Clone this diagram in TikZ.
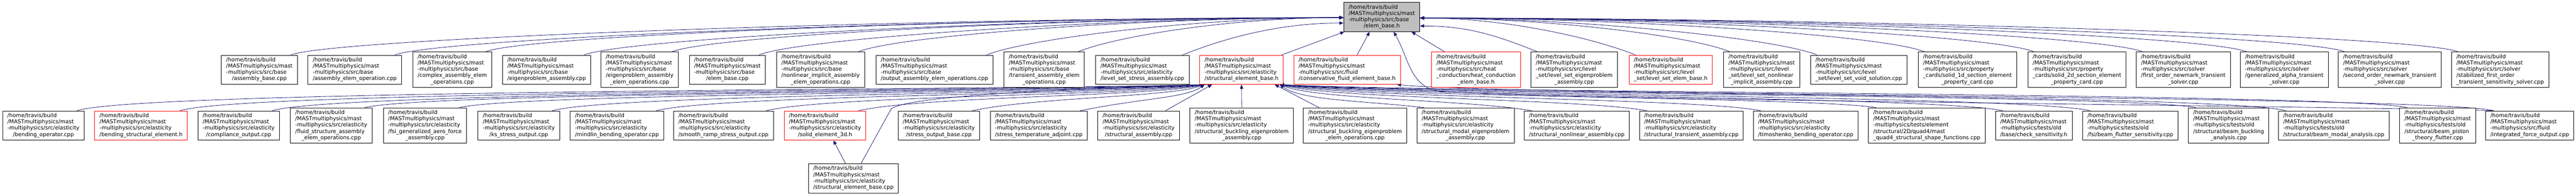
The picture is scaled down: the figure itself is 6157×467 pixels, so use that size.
\documentclass[tikz,border=0pt]{standalone}
\usepackage{fontspec}
\setmainfont{DejaVu Sans}
\usetikzlibrary{arrows.meta,calc,backgrounds}
\definecolor{edgeblue}{HTML}{191970}
\definecolor{grey75}{HTML}{BFBFBF}
\newcommand{\mastpath}{/home/travis/build\\/MASTmultiphysics/mast\\}
\newcommand{\flabel}[2]{\begin{tabular}{@{}l@{}}\mastpath #1\\\multicolumn{1}{@{}c@{}}{#2}\end{tabular}}
\tikzset{
  srcfile/.style={draw=black, line width=1pt, fill=white, inner xsep=11.5pt, inner ysep=4.85pt, font=\fontsize{12.95}{15}\selectfont},
  truncfile/.style={srcfile, draw=red},
  mainfile/.style={srcfile, fill=grey75},
  inc/.style={draw=edgeblue, line width=1pt, -{Triangle[length=10pt,width=8pt]}}
}
\begin{document}
\begin{tikzpicture}[x=1pt,y=1pt]
    \useasboundingbox (0,0) rectangle (6157,-467);
    \node[mainfile] (elemh) at (3302.5,-40.5) {\flabel{-multiphysics/src/base}{/elem\_base.h}};

    % files including elem_base.h
    \node[srcfile] (asmbase) at (619.9,-166.5) {\flabel{-multiphysics/src/base}{/assembly\_base.cpp}};
    \node[srcfile] (asmelemop) at (847.9,-166.5) {\flabel{-multiphysics/src/base}{/assembly\_elem\_operation.cpp}};
    \node[srcfile] (cplxasm) at (1081,-166.5) {\flabel{-multiphysics/src/base\\/complex\_assembly\_elem}{\_operations.cpp}};
    \node[srcfile] (eigasm) at (1306.5,-166.5) {\flabel{-multiphysics/src/base}{/eigenproblem\_assembly.cpp}};
    \node[srcfile] (eigasmop) at (1528.9,-166.5) {\flabel{-multiphysics/src/base\\/eigenproblem\_assembly}{\_elem\_operations.cpp}};
    \node[srcfile] (elemcpp) at (1738.5,-166.5) {\flabel{-multiphysics/src/base}{/elem\_base.cpp}};
    \node[srcfile] (nlasmop) at (1961.3,-166.5) {\flabel{-multiphysics/src/base\\/nonlinear\_implicit\_assembly}{\_elem\_operations.cpp}};
    \node[srcfile] (outasmop) at (2233.5,-166.5) {\flabel{-multiphysics/src/base}{/output\_assembly\_elem\_operations.cpp}};
    \node[srcfile] (transop) at (2495.8,-166.5) {\flabel{-multiphysics/src/base\\/transient\_assembly\_elem}{\_operations.cpp}};
    \node[srcfile] (lsstress) at (2730.5,-166.5) {\flabel{-multiphysics/src/elasticity}{/level\_set\_stress\_assembly.cpp}};
    \node[truncfile] (sebh) at (2967.4,-166.5) {\flabel{-multiphysics/src/elasticity}{/structural\_element\_base.h}};
    \node[truncfile] (cfeh) at (3219.7,-166.5) {\flabel{-multiphysics/src/fluid}{/conservative\_fluid\_element\_base.h}};
    \node[truncfile] (heath) at (3528,-166.5) {\flabel{-multiphysics/src/heat\\\_conduction/heat\_conduction}{\_elem\_base.h}};
    \node[srcfile] (lseig) at (3762.6,-166.5) {\flabel{-multiphysics/src/level\\\_set/level\_set\_eigenproblem}{\_assembly.cpp}};
    \node[truncfile] (lsbaseh) at (3993.1,-166.5) {\flabel{-multiphysics/src/level}{\_set/level\_set\_elem\_base.h}};
    \node[srcfile] (lsnl) at (4210.6,-166.5) {\flabel{-multiphysics/src/level\\\_set/level\_set\_nonlinear}{\_implicit\_assembly.cpp}};
    \node[srcfile] (lsvoid) at (4442.7,-166.5) {\flabel{-multiphysics/src/level}{\_set/level\_set\_void\_solution.cpp}};
    \node[srcfile] (sec1d) at (4702.4,-166.5) {\flabel{-multiphysics/src/property\\\_cards/solid\_1d\_section\_element}{\_property\_card.cpp}};
    \node[srcfile] (sec2d) at (4964.2,-166.5) {\flabel{-multiphysics/src/property\\\_cards/solid\_2d\_section\_element}{\_property\_card.cpp}};
    \node[srcfile] (newmark1) at (5218.4,-166.5) {\flabel{-multiphysics/src/solver\\/first\_order\_newmark\_transient}{\_solver.cpp}};
    \node[srcfile] (galpha) at (5459.8,-166.5) {\flabel{-multiphysics/src/solver\\/generalized\_alpha\_transient}{\_solver.cpp}};
    \node[srcfile] (newmark2) at (5711.9,-166.5) {\flabel{-multiphysics/src/solver\\/second\_order\_newmark\_transient}{\_solver.cpp}};
    \node[srcfile] (stabsens) at (5975.7,-166.5) {\flabel{-multiphysics/src/solver\\/stabilized\_first\_order}{\_transient\_sensitivity\_solver.cpp}};

    % files including the red headers
    \node[srcfile] (bendop) at (103.8,-299.7) {\flabel{-multiphysics/src/elasticity}{/bending\_operator.cpp}};
    \node[truncfile] (bendseh) at (337.1,-299.7) {\flabel{-multiphysics/src/elasticity}{/bending\_structural\_element.h}};
    \node[srcfile] (compl) at (570.5,-299.7) {\flabel{-multiphysics/src/elasticity}{/compliance\_output.cpp}};
    \node[srcfile] (fsiasm) at (791.8,-299.7) {\flabel{-multiphysics/src/elasticity\\/fluid\_structure\_assembly}{\_elem\_operations.cpp}};
    \node[srcfile] (fsiaero) at (1015.8,-299.7) {\flabel{-multiphysics/src/elasticity\\/fsi\_generalized\_aero\_force}{\_assembly.cpp}};
    \node[srcfile] (ksout) at (1239.9,-299.7) {\flabel{-multiphysics/src/elasticity}{/ks\_stress\_output.cpp}};
    \node[srcfile] (mindlin) at (1474.5,-299.7) {\flabel{-multiphysics/src/elasticity}{/mindlin\_bending\_operator.cpp}};
    \node[srcfile] (smooth) at (1729.2,-299.7) {\flabel{-multiphysics/src/elasticity}{/smooth\_ramp\_stress\_output.cpp}};
    \node[truncfile] (solid3d) at (1971.9,-299.7) {\flabel{-multiphysics/src/elasticity}{/solid\_element\_3d.h}};
    \node[srcfile] (stressbase) at (2243.9,-299.7) {\flabel{-multiphysics/src/elasticity}{/stress\_output\_base.cpp}};
    \node[srcfile] (stresstemp) at (2482.8,-299.7) {\flabel{-multiphysics/src/elasticity}{/stress\_temperature\_adjoint.cpp}};
    \node[srcfile] (strasm) at (2721.4,-299.7) {\flabel{-multiphysics/src/elasticity}{/structural\_assembly.cpp}};
    \node[srcfile] (bucklasm) at (2967.9,-299.7) {\flabel{-multiphysics/src/elasticity\\/structural\_buckling\_eigenproblem}{\_assembly.cpp}};
    \node[srcfile] (bucklop) at (3238.7,-299.7) {\flabel{-multiphysics/src/elasticity\\/structural\_buckling\_eigenproblem}{\_elem\_operations.cpp}};
    \node[srcfile] (modaleig) at (3502.7,-299.7) {\flabel{-multiphysics/src/elasticity\\/structural\_modal\_eigenproblem}{\_assembly.cpp}};
    \node[srcfile] (strnl) at (3768.7,-299.7) {\flabel{-multiphysics/src/elasticity}{/structural\_nonlinear\_assembly.cpp}};
    \node[srcfile] (strtrans) at (4042.6,-299.7) {\flabel{-multiphysics/src/elasticity}{/structural\_transient\_assembly.cpp}};
    \node[srcfile] (timo) at (4315.9,-299.7) {\flabel{-multiphysics/src/elasticity}{/timoshenko\_bending\_operator.cpp}};
    \node[srcfile] (quad4) at (4605.4,-299.7) {\flabel{-multiphysics/tests/element\\/structural/2D/quad4/mast}{\_quad4\_structural\_shape\_functions.cpp}};
    \node[srcfile] (checksens) at (4860.9,-299.7) {\flabel{-multiphysics/tests/old}{/base/check\_sensitivity.h}};
    \node[srcfile] (flutter) at (5091.8,-299.7) {\flabel{-multiphysics/tests/old}{/fsi/beam\_flutter\_sensitivity.cpp}};
    \node[srcfile] (beambuckl) at (5326.7,-299.7) {\flabel{-multiphysics/tests/old\\/structural/beam\_buckling}{\_analysis.cpp}};
    \node[srcfile] (beammodal) at (5578.1,-299.7) {\flabel{-multiphysics/tests/old}{/structural/beam\_modal\_analysis.cpp}};
    \node[srcfile] (piston) at (5826.4,-299.7) {\flabel{-multiphysics/tests/old\\/structural/beam\_piston}{\_theory\_flutter.cpp}};
    \node[srcfile] (intforce) at (6046.4,-299.7) {\flabel{-multiphysics/src/fluid}{/integrated\_force\_output.cpp}};

    \node[srcfile] (sebcpp) at (2039.9,-425.8) {\flabel{-multiphysics/src/elasticity}{/structural\_element\_base.cpp}};

    \coordinate (topW) at ([yshift=-1.5pt]elemh.west);
    \coordinate (topW2) at ([yshift=-14.5pt]elemh.west);
    \coordinate (topE) at ([yshift=-2.5pt]elemh.east);
    \coordinate (topE2) at ([yshift=-21.5pt]elemh.east);
    \coordinate (sebL) at ([xshift=12pt]sebh.south west);
    \coordinate (sebL2) at ([xshift=30pt]sebh.south west);
    \coordinate (sebR) at ([xshift=-9pt]sebh.south east);
    \coordinate (sebR2) at ([xshift=-21pt]sebh.south east);
    \coordinate (cfeR) at ([xshift=-9pt]cfeh.south east);
    \coordinate (bendpt) at (3440,-218);

    \begin{scope}[on background layer]
    % row 2 to elem_base.h
    \foreach \s/\t in {asmbase/topW, asmelemop/topW, cplxasm/topW, eigasm/topW, eigasmop/topW, elemcpp/topW, nlasmop/topW, outasmop/topW, transop/topW, lsstress/topW2}
        \draw[inc] let \p1=([xshift=-16pt]\s.north east), \p2=(\t) in (\p1) .. controls ({\x1+100pt},{\y1+40pt}) and ({\x1+0.6*(\x2-\x1)},\y2) .. (\p2);
    \foreach \s/\t in {lseig/topE2, lsbaseh/topE, lsnl/topE, lsvoid/topE, sec1d/topE, sec2d/topE, newmark1/topE, galpha/topE, newmark2/topE, stabsens/topE}
        \draw[inc] let \p1=([xshift=16pt]\s.north west), \p2=(\t) in (\p1) .. controls ({\x1-100pt},{\y1+40pt}) and ({\x1+0.6*(\x2-\x1)},\y2) .. (\p2);
    \draw[inc] ([xshift=-4.5pt]sebh.north east) -- ([xshift=2pt]elemh.south west);
    \draw[inc] ([xshift=24pt]cfeh.north) -- ([xshift=-29pt]elemh.south);
    \draw[inc] ([xshift=-75pt]heath.north) -- ([xshift=71pt]elemh.south);

    % row 3 to structural_element_base.h
    \foreach \s/\l in {bendop/214, bendseh/216, compl/218, fsiasm/220, fsiaero/222, ksout/224, mindlin/226, smooth/228, solid3d/230, stressbase/232, stresstemp/234}
        \draw[inc] let \p1=([xshift=-18pt]\s.north east), \p2=(sebL) in (\p1) .. controls ({\x1+150pt},{-1pt*\l}) and ({\x1+0.85*(\x2-\x1)},{-1pt*\l}) .. (\p2);
    \foreach \s/\l in {modaleig/240, strnl/238, strtrans/236, timo/234, quad4/232, checksens/230, flutter/228, beambuckl/226, beammodal/224, piston/222}
        \draw[inc] let \p1=([xshift=18pt]\s.north west), \p2=(sebR) in (\p1) .. controls ({\x1-150pt},{-1pt*\l}) and ({\x1+0.85*(\x2-\x1)},{-1pt*\l}) .. (\p2);
    \draw[inc] ([xshift=-34pt]strasm.north east) -- (sebL2);
    \draw[inc] (bucklasm.north) -- (sebh.south);
    \draw[inc] ([xshift=38pt]bucklop.north west) -- (sebR2);

    % integrated_force_output.cpp
    \draw[inc] let \p1=([xshift=20pt]intforce.north west), \p2=(cfeR) in (\p1) .. controls ({\x1-150pt},-228pt) and ({\x1+0.9*(\x2-\x1)},-228pt) .. (\p2);
    \draw[inc] ([xshift=20pt]intforce.north west) .. controls (5500,-252) and (3700,-238) .. (bendpt) to[out=172,in=-60] ([xshift=28.5pt]elemh.south);

    % structural_element_base.cpp
    \draw[inc] ([xshift=-19pt]sebcpp.north) -- ([xshift=20pt]solid3d.south);
    \draw[inc] ([xshift=18pt]sebcpp.north) -- (2130,-260) .. controls (2170,-228) and (2560,-212) .. (sebL2);
    \end{scope}
\end{tikzpicture}
\end{document}
